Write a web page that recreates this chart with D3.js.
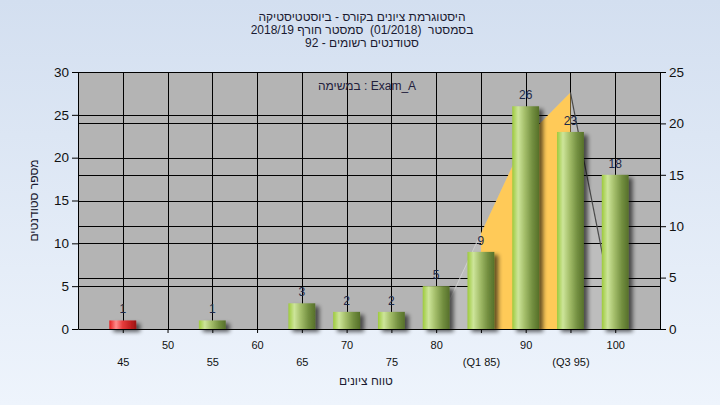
<!DOCTYPE html>
<html><head><meta charset="utf-8">
<script src="https://cdn.jsdelivr.net/npm/d3@7"></script>
<style>
html,body{margin:0;padding:0;overflow:hidden;background:#fff;}
svg{display:block;font-family:"Liberation Sans",Arial,sans-serif;}
</style>
</head><body>
<script>
// ---- data ----
const titleLines = ["היסטוגרמת ציונים בקורס - ביוסטטיסטיקה", "בסמסטר  (01/2018)  סמסטר חורף 2018/19", "סטודנטים רשומים - 92"];
const annotation = "Exam_A : במשימה";
const yTitle = "מספר סטודנטים";
const xTitle = "טווח ציונים";
const categories = [45, 50, 55, 60, 65, 70, 75, 80, 85, 90, 95, 100];
const counts     = [1, 0, 1, 0, 3, 2, 2, 5, 9, 26, 23, 18];
const tickLabels = ["45", "50", "55", "60", "65", "70", "75", "80", "(Q1 85)", "90", "(Q3 95)", "100"];
const failingCategories = [45];
const leftTicks = [0, 5, 10, 15, 20, 25, 30];
const rightTicks = [0, 5, 10, 15, 20, 25];
const curveX = [80, 85, 90, 95, 100];
const curveValues = [0, 9.3, 18.6, 23, 1];
const q1 = 85, q3 = 95;

// ---- layout ----
const W = 720, H = 405;
const L = 78, R = 660, T = 72, B = 329;
const barUnits = 3;

const svg = d3.select("body").append("svg").attr("width", W).attr("height", H);
const defs = svg.append("defs");
const bg = defs.append("linearGradient").attr("id", "bg").attr("x1", 0).attr("y1", 0).attr("x2", 0).attr("y2", 1);
bg.append("stop").attr("offset", "0%").attr("stop-color", "#d3dff0");
bg.append("stop").attr("offset", "100%").attr("stop-color", "#eef4fc");

function hGrad(id, stops) {
  const g = defs.append("linearGradient").attr("id", id).attr("x1", 0).attr("y1", 0).attr("x2", 1).attr("y2", 0);
  stops.forEach(s => g.append("stop").attr("offset", s[0]).attr("stop-color", s[1]));
}
hGrad("gGreen", [["0%", "#9dca3c"], ["22%", "#cde59a"], ["45%", "#a6c06c"], ["75%", "#738f40"], ["100%", "#56702a"]]);
hGrad("gRed", [["0%", "#e41c1c"], ["25%", "#ff8c8c"], ["50%", "#e63a3a"], ["80%", "#c02020"], ["100%", "#9a1414"]]);

const f = defs.append("filter").attr("id", "sh").attr("filterUnits", "userSpaceOnUse")
  .attr("x", 0).attr("y", 0).attr("width", W).attr("height", H);
f.append("feGaussianBlur").attr("in", "SourceAlpha").attr("stdDeviation", 2).attr("result", "b");
f.append("feOffset").attr("in", "b").attr("dx", 4).attr("dy", 3).attr("result", "o");
f.append("feComponentTransfer").attr("in", "o").attr("result", "o2")
  .append("feFuncA").attr("type", "linear").attr("slope", 0.6);
const fm = f.append("feMerge");
fm.append("feMergeNode").attr("in", "o2");
fm.append("feMergeNode").attr("in", "SourceGraphic");

svg.append("rect").attr("width", W).attr("height", H).attr("fill", "url(#bg)");

// scales
const x = d3.scaleLinear().domain([40, 105]).range([L, R]);
const yL = d3.scaleLinear().domain([0, 30]).range([B, T]);
const yR = d3.scaleLinear().domain([0, 25]).range([B, T]);

// plot background
svg.append("rect").attr("x", L).attr("y", T).attr("width", R - L).attr("height", B - T).attr("fill", "#b4b4b4");

// curve data
const pts = curveX.map((c, i) => ({ x: c, v: curveValues[i] }));
const area = d3.area().x(d => x(d.x)).y0(yR(0)).y1(d => yR(d.v));
const line = d3.line().x(d => x(d.x)).y(d => yR(d.v));
svg.append("path").attr("d", area(pts)).attr("fill", "#bdbdbd");

// grid
const grid = svg.append("g").attr("stroke", "#000").attr("stroke-width", 1);
const px = v => Math.round(v) + 0.5;
leftTicks.filter(t => t > 0).forEach(t => grid.append("line").attr("x1", L).attr("x2", R).attr("y1", px(yL(t))).attr("y2", px(yL(t))));
rightTicks.filter(t => t > 0).forEach(t => grid.append("line").attr("x1", L).attr("x2", R).attr("y1", px(yR(t))).attr("y2", px(yR(t))));
categories.forEach(c => grid.append("line").attr("y1", T).attr("y2", B).attr("x1", px(x(c))).attr("x2", px(x(c))));

// IQR area + curve edges
svg.append("path").attr("d", area(pts.filter(d => d.x >= q1 && d.x <= q3))).attr("fill", "#ffca58");
svg.append("path").attr("d", line(pts.filter(d => d.x <= q1))).attr("fill", "none").attr("stroke", "#cfcfcf").attr("stroke-width", 1);
svg.append("path").attr("d", line(pts.filter(d => d.x >= q3))).attr("fill", "none").attr("stroke", "#4a4a4a").attr("stroke-width", 1.2);

// bars
const barData = categories.map((c, i) => ({ c, v: counts[i] })).filter(d => d.v > 0);
svg.append("g").attr("filter", "url(#sh)").selectAll("rect").data(barData).join("rect")
  .attr("x", d => x(d.c - barUnits / 2))
  .attr("width", d => x(d.c + barUnits / 2) - x(d.c - barUnits / 2))
  .attr("y", d => yL(d.v))
  .attr("height", d => yL(0) - yL(d.v))
  .attr("fill", d => failingCategories.includes(d.c) ? "url(#gRed)" : "url(#gGreen)");

svg.append("g").selectAll("text").data(barData).join("text")
  .attr("x", d => x(d.c)).attr("y", d => yL(d.v) - 7)
  .attr("text-anchor", "middle").attr("font-size", 12).attr("fill", "#1c2848")
  .text(d => d.v);

// axes
const axL = svg.append("g").attr("transform", `translate(${L},0)`)
  .call(d3.axisLeft(yL).tickValues(leftTicks).tickSizeInner(6).tickSizeOuter(0).tickPadding(3));
const axR = svg.append("g").attr("transform", `translate(${R},0)`)
  .call(d3.axisRight(yR).tickValues(rightTicks).tickSizeInner(6).tickSizeOuter(0).tickPadding(3));
const axB = svg.append("g").attr("transform", `translate(0,${B})`)
  .call(d3.axisBottom(x).tickValues(categories).tickSizeInner(4).tickSizeOuter(0).tickFormat((d, i) => tickLabels[i]));
[axL, axR].forEach(a => a.selectAll("text").attr("font-size", 13.5).attr("fill", "#111").attr("font-family", "Liberation Sans, Arial, sans-serif"));
axB.selectAll("text").attr("font-size", 11).attr("fill", "#111").attr("font-family", "Liberation Sans, Arial, sans-serif")
  .attr("y", (d, i) => i % 2 === 0 ? 29 : 12);
[axL, axR, axB].forEach(a => { a.selectAll("path,line").attr("stroke", "#000"); });

// titles
svg.append("g").selectAll("text").data(titleLines).join("text")
  .attr("x", 362).attr("y", (d, i) => 21 + i * 13)
  .attr("text-anchor", "middle").attr("direction", "rtl").style("white-space", "pre")
  .attr("font-size", 12).attr("fill", "#1a1a30").text(d => d);

svg.append("text").attr("x", 367).attr("y", 90).attr("text-anchor", "middle").attr("direction", "rtl")
  .attr("font-size", 12).attr("fill", "#22203c").text(annotation);

svg.append("text").attr("transform", `translate(38,${(T + B) / 2}) rotate(-90)`)
  .attr("text-anchor", "middle").attr("direction", "rtl").attr("font-size", 12).attr("fill", "#1a1a30").text(yTitle);
svg.append("text").attr("x", 366).attr("y", 385).attr("text-anchor", "middle").attr("direction", "rtl")
  .attr("font-size", 12).attr("fill", "#1a1a30").text(xTitle);
</script>
</body></html>
